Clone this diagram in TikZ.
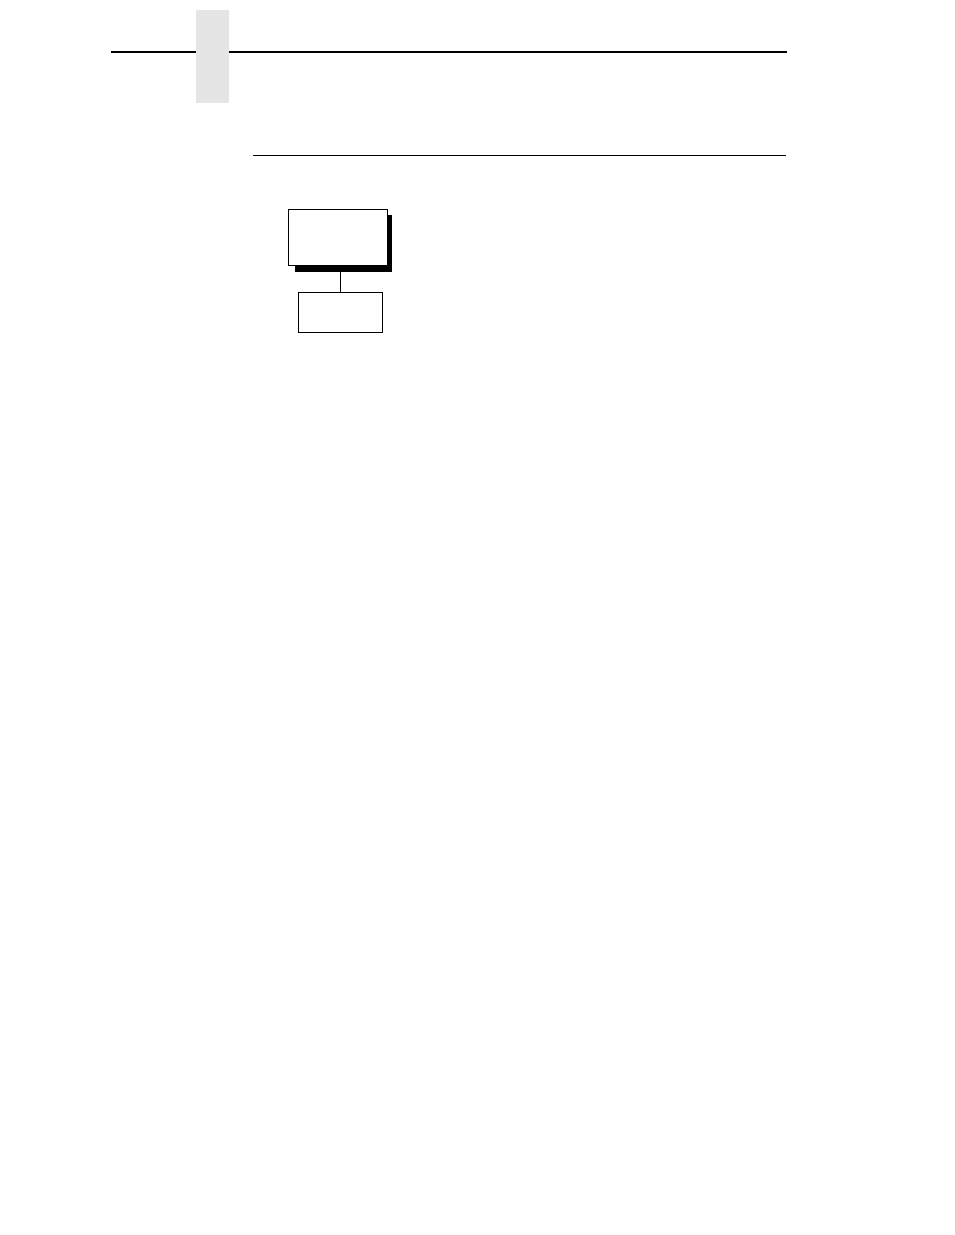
\documentclass[tikz,border=0pt]{standalone}
\usepackage{tikz}
\tikzset{
  menubox/.style={draw, fill=white, line width=1pt, inner sep=0pt, minimum width=99, minimum height=56},
  itembox/.style={draw, fill=white, line width=1pt, inner sep=0pt, minimum width=84, minimum height=40},
}
\begin{document}
\begin{tikzpicture}[x=1pt, y=-1pt]
  \useasboundingbox (0,0) rectangle (954,1235);
  \begin{scope}
    \draw[line width=2.2pt] (111, 52) -- (787, 52);
    \fill[gray!20] (196, 10) rectangle (229, 103);
    \draw[line width=1pt] (253, 155) -- (786, 155);
    \fill[black] (295, 215) rectangle (392, 271.5);
    \node[menubox] (menu) at (338, 237.3) {};
    \node[itembox] (item) at (340.5, 312.3) {};
    \coordinate (menubot) at (340.5, 271.5);
    \draw[line width=1pt] (menubot) -- (item.north);
  \end{scope}
\end{tikzpicture}
\end{document}
